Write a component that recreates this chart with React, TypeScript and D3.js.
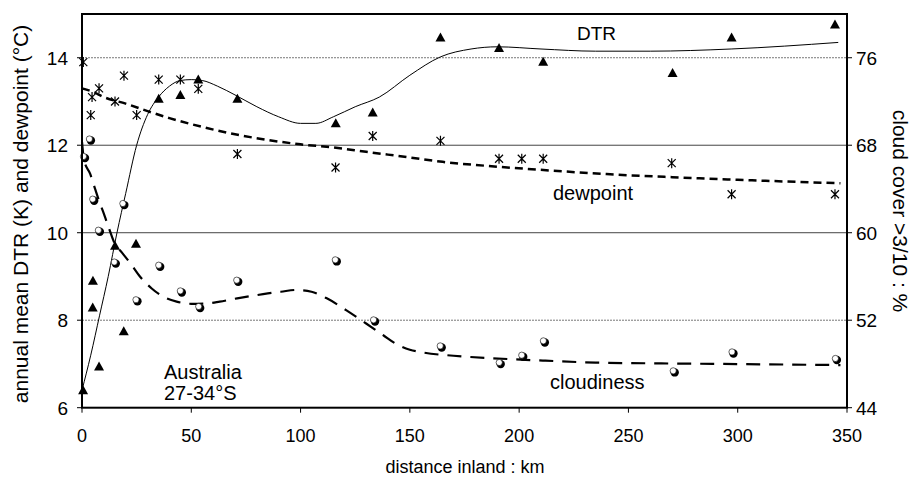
import React from "react";
import * as d3 from "d3";

// ---- data ----
const dtrX = [0.5, 4.9, 5, 7.8, 15.1, 19.1, 24.7, 35.1, 45, 53.2, 71.1, 116.1, 133, 164, 190.8, 211, 270.2, 297.2, 344.5];
const dtrY = [6.4, 8.29, 8.9, 6.94, 9.7, 7.75, 9.75, 13.06, 13.15, 13.5, 13.06, 12.5, 12.75, 14.46, 14.22, 13.91, 13.65, 14.46, 14.76];

const dewX = [0.6, 4, 4.6, 7.8, 15.1, 19.2, 25, 35.1, 45, 53.2, 71.1, 116, 133, 164, 190.8, 201.2, 211, 269.8, 297.2, 344.5];
const dewY = [13.9, 12.69, 13.1, 13.3, 13.0, 13.59, 12.69, 13.5, 13.5, 13.29, 11.8, 11.49, 12.21, 12.1, 11.69, 11.69, 11.69, 11.59, 10.88, 10.88];

const cloudX = [1.0, 3.7, 5.2, 7.8, 15.1, 19.0, 25, 35.4, 45.3, 53.7, 71.1, 116.2, 133.7, 164.2, 191.2, 201.5, 211.4, 270.8, 297.7, 345];
const cloudY = [66.9, 68.5, 63.0, 60.16, 57.25, 62.6, 53.8, 56.96, 54.61, 53.18, 55.59, 57.45, 51.96, 49.58, 48.06, 48.73, 50.04, 47.3, 49.03, 48.43];

// fitted curves (as drawn in the reference)
const dtrFitX = [0, 4, 8, 12, 16, 20, 25, 30, 35, 40, 45, 50, 55, 62, 70, 80, 90, 100, 107, 115, 125, 136, 150, 164, 178, 190, 210, 235, 260, 297, 346];
const dtrFitY = [6.4, 7.2, 8.1, 9.0, 10.0, 10.9, 12.0, 12.7, 13.1, 13.35, 13.48, 13.5, 13.48, 13.35, 13.15, 12.88, 12.65, 12.5, 12.5, 12.65, 12.88, 13.1, 13.6, 14.02, 14.2, 14.25, 14.2, 14.15, 14.15, 14.2, 14.35];

const dewFitX = [0, 5, 10, 20, 30, 40, 55, 70, 85, 100, 115, 130, 150, 165, 190, 215, 240, 270, 300, 347];
const dewFitY = [13.3, 13.22, 13.1, 12.95, 12.78, 12.62, 12.42, 12.25, 12.12, 12.02, 11.95, 11.85, 11.72, 11.62, 11.51, 11.42, 11.34, 11.27, 11.21, 11.13];

const cloudFitX = [0, 1, 3.7, 5.2, 7.5, 9.7, 12, 15, 18.2, 22.7, 26.5, 31.9, 37.2, 43.3, 50, 58, 63, 71, 77, 85, 91, 98, 105, 112, 121, 130, 138, 144, 150, 156, 170, 188, 212, 235, 265, 293, 347];
const cloudFitY = [68.3, 66.6, 65.4, 64.5, 63.1, 61.9, 60.6, 59.0, 58.2, 57.05, 56.0, 54.9, 54.15, 53.7, 53.5, 53.55, 53.7, 54.0, 54.2, 54.45, 54.6, 54.77, 54.6, 54.0, 52.9, 51.7, 50.6, 49.8, 49.3, 49.05, 48.75, 48.52, 48.3, 48.12, 48.05, 48.0, 47.9];

const xTicks = [0, 50, 100, 150, 200, 250, 300, 350];
const leftTicks = [6, 8, 10, 12, 14];
const rightTicks = [44, 52, 60, 68, 76];
const gridValues = [8, 10, 12, 14];

const W = 912, H = 477;
const L = 82, R = 847, T = 14, B = 407.7;
const FONT = "'Liberation Sans', Arial, Helvetica, sans-serif";

export default function App() {
  const x = d3.scaleLinear().domain([0, 350]).range([L, R]);
  const yL = d3.scaleLinear().domain([6, 15]).range([B, T]);
  const yR = d3.scaleLinear().domain([44, 80]).range([B, T]);

  const lineL = d3.line<[number, number]>().x(d => x(d[0])).y(d => yL(d[1])).curve(d3.curveMonotoneX);
  const lineR = d3.line<[number, number]>().x(d => x(d[0])).y(d => yR(d[1])).curve(d3.curveMonotoneX);

  const dtrFit = dtrFitX.map((v, i) => [v, dtrFitY[i]] as [number, number]);
  const dewFit = dewFitX.map((v, i) => [v, dewFitY[i]] as [number, number]);
  const cloudFit = cloudFitX.map((v, i) => [v, cloudFitY[i]] as [number, number]);

  const tri = "M0,-5 L5,4 L-5,4 Z";
  const star = "M-4,-4 L4,4 M-4,4 L4,-4 M0,-5 L0,5";

  return (
    <svg width={W} height={H} style={{ position: "absolute", left: 0, top: 0, background: "#fff" }} fontFamily={FONT}>
      <rect x={0} y={0} width={W} height={H} fill="#fff" />
      {/* gridlines */}
      {gridValues.map(v => (
        <line key={"g" + v} x1={L} x2={R} y1={yL(v)} y2={yL(v)}
          stroke={v === 10 || v === 12 ? "#444" : "#777"} strokeWidth={1}
          strokeDasharray={v === 8 || v === 14 ? "2,1" : undefined} />
      ))}

      {/* fitted curves */}
      <path d={lineL(dtrFit) || ""} fill="none" stroke="#000" strokeWidth={1} />
      <path d={lineL(dewFit) || ""} fill="none" stroke="#000" strokeWidth={2.5} strokeDasharray="8,5" />
      <path d={lineR(cloudFit) || ""} fill="none" stroke="#000" strokeWidth={2.2} strokeDasharray="14,9" />

      {/* markers */}
      {dewX.map((v, i) => (
        <path key={"d" + i} d={star} transform={`translate(${x(v)},${yL(dewY[i])})`} stroke="#000" strokeWidth={1.2} fill="none" />
      ))}
      {dtrX.map((v, i) => (
        <path key={"t" + i} d={tri} transform={`translate(${x(v)},${yL(dtrY[i])})`} fill="#000" />
      ))}
      {cloudX.map((v, i) => (
        <g key={"c" + i} transform={`translate(${x(v)},${yR(cloudY[i])})`}>
          <circle cx={0.8} cy={0.8} r={4.2} fill="#000" />
          <circle cx={-0.7} cy={-0.8} r={3.1} fill="#fff" stroke="#000" strokeWidth={0.6} />
        </g>
      ))}

      {/* frame */}
      <rect x={L} y={T} width={R - L} height={B - T} fill="none" stroke="#000" strokeWidth={2} />

      {/* bottom axis */}
      {xTicks.map(v => (
        <g key={"x" + v}>
          <line x1={x(v)} x2={x(v)} y1={B} y2={B + 5} stroke="#000" strokeWidth={1} />
          <text x={x(v)} y={442} textAnchor="middle" fontSize={18}>{v}</text>
        </g>
      ))}
      {/* left axis */}
      {leftTicks.map(v => (
        <g key={"l" + v}>
          <line x1={L - 5} x2={L} y1={yL(v)} y2={yL(v)} stroke="#000" strokeWidth={1} />
          <text x={68} y={yL(v)} dy="0.36em" textAnchor="end" fontSize={19}>{v}</text>
        </g>
      ))}
      {/* right axis */}
      {rightTicks.map(v => (
        <g key={"r" + v}>
          <line x1={R} x2={R + 5} y1={yR(v)} y2={yR(v)} stroke="#000" strokeWidth={1} />
          <text x={856} y={yR(v)} dy="0.36em" textAnchor="start" fontSize={19}>{v}</text>
        </g>
      ))}

      {/* axis titles */}
      <text x={465} y={473} textAnchor="middle" fontSize={18}>distance inland : km</text>
      <text transform={`translate(21,${214}) rotate(-90)`} textAnchor="middle" dy="0.35em" fontSize={21}>
        annual mean DTR (K) and dewpoint (°C)
      </text>
      <text transform={`translate(900,${211}) rotate(90)`} textAnchor="middle" dy="0.35em" fontSize={21}>
        cloud cover &gt;3/10 : %
      </text>

      {/* series labels */}
      <text x={577} y={33} dy="0.35em" fontSize={19}>DTR</text>
      <text x={553} y={193} dy="0.35em" fontSize={20}>dewpoint</text>
      <text x={550} y={381.5} dy="0.35em" fontSize={20}>cloudiness</text>
      <text x={164} y={371.5} dy="0.35em" fontSize={20}>Australia</text>
      <text x={164} y={393} dy="0.35em" fontSize={20}>27-34°S</text>
    </svg>
  );
}
